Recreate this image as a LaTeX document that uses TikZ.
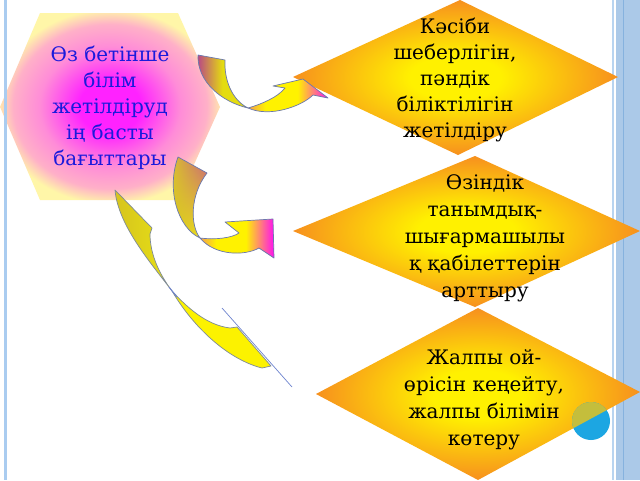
\documentclass[tikz,border=0pt]{standalone}
\usepackage{fontspec}
\setmainfont{DejaVu Serif}
\usetikzlibrary{shadings}
\definecolor{hexm}{HTML}{FF22FF}
\definecolor{hexp}{HTML}{FF8CD8}
\definecolor{hexq}{HTML}{FFB0C8}
\definecolor{hexy}{HTML}{FFF6A8}
\definecolor{dyel}{HTML}{FFF100}
\definecolor{dora}{HTML}{F7901E}
\definecolor{hexblue}{HTML}{1A1ADC}
\definecolor{stripe}{HTML}{ABC9E8}
\definecolor{stripelt}{HTML}{B8D4F0}
\definecolor{stripedk}{HTML}{86B2DE}
\definecolor{leftline}{HTML}{AACCF0}
\definecolor{arrline}{HTML}{6A78AE}
\definecolor{crline}{HTML}{7E8A98}
\definecolor{blueln}{HTML}{6E84CF}
\definecolor{cyanc}{HTML}{1CA6E2}
\definecolor{olivec}{HTML}{C4BE3C}
\definecolor{aPurp}{HTML}{B84488}
\definecolor{aOliv}{HTML}{E4DC10}
\definecolor{aOrng}{HTML}{F2A050}
\definecolor{aYel}{HTML}{FFF200}
\definecolor{aMag}{HTML}{FF10F0}
\definecolor{tUL}{HTML}{DCD020}
\definecolor{tUR}{HTML}{C8607E}
\definecolor{tLL}{HTML}{D4C420}
\definecolor{tLR}{HTML}{EEE418}
\definecolor{cOl}{HTML}{D6C41E}
\definecolor{cYl}{HTML}{E8E214}
\definecolor{cBr}{HTML}{FCF200}
\pgfdeclareradialshading{hexsh}{\pgfpoint{0bp}{0bp}}{color(0bp)=(hexm); color(7bp)=(hexm); color(16bp)=(hexp); color(22bp)=(hexq); color(26bp)=(hexy); color(50bp)=(hexy)}
\pgfdeclareradialshading{diash}{\pgfpoint{0bp}{0bp}}{color(0bp)=(dyel); color(7bp)=(dyel); color(25bp)=(dora); color(50bp)=(dora)}
\pgfdeclarehorizontalshading{headsh}{100bp}{color(0bp)=(aOrng); color(25bp)=(aOrng); color(36bp)=(aYel); color(56bp)=(aYel); color(75bp)=(aMag); color(100bp)=(aMag)}
\pgfdeclarehorizontalshading{tailsh}{100bp}{color(0bp)=(aPurp); color(25bp)=(aPurp); color(50bp)=(aOliv); color(75bp)=(aOliv); color(100bp)=(aOliv)}
\begin{document}
\begin{tikzpicture}[x=1pt,y=-1pt,
  hextext/.style={align=center,text=hexblue,inner sep=0pt,font=\fontsize{20}{26}\selectfont},
  diatext/.style={align=center,text=black,inner sep=0pt,font=\fontsize{20}{26}\selectfont},
  diatextb/.style={align=center,text=black,inner sep=0pt,font=\fontsize{20}{27}\selectfont},
  diashape/.style={shading=diash},
  arrowline/.style={draw=arrline,line width=0.7pt,line join=round},
  crescent/.style={draw=crline,line width=0.7pt,line join=round}]
\useasboundingbox (0,0) rectangle (640,480);
\fill[white] (0,0) rectangle (640,480);
% right stripes
\fill[stripe] (616,0) rectangle (640,480);
\fill[stripelt] (612,0) rectangle (614,480);
\draw[stripedk,line width=1pt] (623,0) -- (623,480);
% hexagon
\shade[shading=hexsh] (40,13) -- (178,13) -- (220,107) -- (178,200) -- (40,200) -- (0,107) -- cycle;
\fill[leftline] (3.5,0) rectangle (6.5,480);
% diamonds
\shade[diashape] (460,0) -- (618,77) -- (458,155) -- (293,77) -- cycle;
\shade[diashape] (475,156) -- (640,231) -- (475,307) -- (293,231) -- cycle;
\shade[diashape] (478,308) -- (640,392) -- (478,480) -- (316,394) -- cycle;
% circle
\fill[cyanc] (591,421) circle (19);
\begin{scope}
\clip (478,308) -- (640,392) -- (478,480) -- (316,394) -- cycle;
\fill[olivec] (591,421) circle (19);
\end{scope}
% arrow 1
\shade[arrowline,shading=tailsh]
  (198,55) -- (225,60) .. controls (224,80) and (232,100) .. (248,108)
  .. controls (222,102) and (197,82) .. cycle;
\shade[arrowline,shading=headsh]
  (248,108) .. controls (262,104) and (278,97) .. (285,88) -- (273,86) -- (303,79) -- (328,98) -- (313,95)
  .. controls (302,106) and (270,118) .. cycle;
% arrow 2
\shade[arrowline,upper left=tUL,upper right=tUR,lower left=tLL,lower right=tLR]
  (178,157) -- (207,173) .. controls (190,195) and (190,225) .. (200,238)
  .. controls (178,228) and (166,190) .. cycle;
\shade[arrowline,shading=headsh]
  (200,238) .. controls (215,240) and (232,238) .. (239,233) -- (225,222) -- (273,219) -- (274,258) -- (259,248)
  .. controls (245,256) and (215,256) .. cycle;
% crescent arrow 3
\shade[crescent,left color=cOl,right color=cYl]
  (115,190) -- (152,228) -- (150,234) .. controls (150,255) and (160,275) .. (172,291)
  .. controls (150,262) and (118,225) .. cycle;
\fill[crescent,fill=cBr]
  (172,291) .. controls (185,305) and (205,325) .. (230,328) -- (237,327) -- (271,366) -- (262,368)
  .. controls (230,360) and (195,330) .. cycle;
\draw[blueln,line width=1pt] (169,287) -- (177,297);
\draw[blueln,line width=0.7pt] (222,308) -- (292,387);
% texts
\node[hextext] (hex) at (110,108) {Өз бетінше\\білім\\жетілдіруд\\ің басты\\бағыттары};
\node[diatext] (d1) at (455,80) {Кәсіби\\шеберлігін,\\пәндік\\біліктілігін\\жетілдіру};
\node[diatextb] (d2) at (485,238) {Өзіндік\\танымдық-\\шығармашылы\\қ қабілеттерін\\арттыру};
\node[diatextb] (d3) at (484,400) {Жалпы ой-\\өрісін кеңейту,\\жалпы білімін\\көтеру};
\end{tikzpicture}
\end{document}
